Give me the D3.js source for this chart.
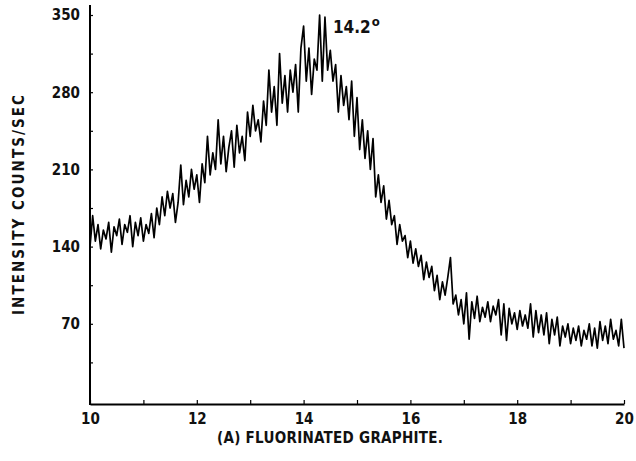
<!DOCTYPE html>
<html>
<head>
<meta charset="utf-8">
<script src="https://cdn.jsdelivr.net/npm/d3@7"></script>
<style>
    body { margin: 0; background: #fff; }
    text { font-family: "DejaVu Sans Condensed", "DejaVu Sans", sans-serif; fill: #111; }
</style>
</head>
<body>
<script>
// 2-theta scan, one reading every 0.05 deg from 10 to 20
const startAngle = 10;
const angleStep = 0.05;
const counts = [
    140, 168, 145, 160, 138, 155, 147, 162, 135, 158,
    150, 165, 142, 160, 153, 168, 140, 162, 150, 166,
    145, 160, 152, 170, 148, 175, 160, 185, 168, 190,
    175, 188, 162, 180, 214, 178, 200, 185, 210, 192,
    205, 180, 215, 198, 240, 205, 225, 210, 255, 215,
    240, 208, 230, 245, 212, 250, 225, 240, 218, 262,
    240, 268, 245, 255, 235, 272, 250, 300, 262, 285,
    250, 315, 270, 295, 262, 300, 280, 305, 262, 320,
    340, 290, 320, 278, 310, 300, 350, 290, 348, 300,
    318, 290, 305, 262, 295, 268, 285, 255, 290, 240,
    275, 228, 255, 220, 245, 210, 238, 185, 205, 180,
    195, 165, 182, 160, 168, 142, 160, 145, 150, 130,
    145, 125, 138, 122, 132, 110, 126, 112, 122, 100,
    114, 92, 108, 96, 112, 130, 88, 96, 78, 92,
    70, 98, 56, 90, 75, 95, 72, 85, 76, 90,
    72, 86, 78, 92, 60, 88, 55, 84, 70, 80,
    65, 82, 68, 78, 66, 88, 58, 82, 62, 78,
    60, 80, 52, 74, 60, 76, 50, 68, 58, 70,
    52, 66, 55, 68, 50, 64, 56, 70, 50, 66,
    48, 72, 55, 68, 52, 74, 56, 64, 50, 74,
    48
];
const xTicks = [10, 11, 12, 13, 14, 15, 16, 17, 18, 19, 20];
const yTicks = [35, 70, 105, 140, 175, 210, 245, 280, 315, 350];
const yLabelled = [70, 140, 210, 280, 350];
const peakLabel = {angle: 14.55, value: 334, text: "14.2"};

const width = 636, height = 461;

const data = counts.map((c, i) => ({angle: startAngle + i * angleStep, count: c}));

const svg = d3.select("body").append("svg")
    .attr("width", width)
    .attr("height", height)
    .attr("viewBox", [0, 0, width, height]);

const x = d3.scaleLinear().domain([10, 20]).range([90, 624]);
const y = d3.scaleLinear().domain([0, 350]).range([401, 15]);
const axisY = 404;

// x axis, small inward ticks, labels on even degrees only
svg.append("g")
    .attr("transform", `translate(0,${axisY})`)
    .call(d3.axisBottom(x)
        .tickValues(xTicks)
        .tickSizeInner(-4)
        .tickSizeOuter(0)
        .tickPadding(9)
        .tickFormat(d => d % 2 === 0 ? d : ""))
    .call(g => g.select(".domain").attr("stroke-width", 2))
    .call(g => g.selectAll(".tick line").attr("stroke-width", 1.2))
    .call(g => g.selectAll(".tick text")
        .style("font-size", "15px")
        .style("font-weight", "bold")
        .attr("fill", "#111"));

// y axis
svg.append("g")
    .attr("transform", `translate(${x(10)},0)`)
    .call(d3.axisLeft(y)
        .tickValues(yTicks)
        .tickSizeInner(-3)
        .tickSizeOuter(0)
        .tickPadding(10)
        .tickFormat(d => yLabelled.includes(d) ? d : ""))
    .call(g => g.select(".domain").remove())
    .call(g => g.selectAll(".tick line").attr("stroke-width", 1.2))
    .call(g => g.selectAll(".tick text")
        .style("font-size", "15px")
        .style("font-weight", "bold")
        .attr("fill", "#111"));

svg.append("line")
    .attr("x1", x(10)).attr("x2", x(10))
    .attr("y1", y(359)).attr("y2", axisY + 1)
    .attr("stroke", "#000")
    .attr("stroke-width", 2);

// the scan trace
const line = d3.line()
    .x(d => x(d.angle))
    .y(d => y(d.count));

svg.append("path")
    .attr("fill", "none")
    .attr("stroke", "#000")
    .attr("stroke-width", 1.7)
    .attr("stroke-linejoin", "round")
    .attr("d", line(data));

// peak annotation
const peak = svg.append("text")
    .attr("x", x(peakLabel.angle))
    .attr("y", y(peakLabel.value))
    .style("font-size", "17px")
    .style("font-weight", "600")
    .text(peakLabel.text);
peak.append("tspan")
    .attr("dy", "-0.5em")
    .attr("dx", "1")
    .style("font-size", "13px")
    .text("o");

// axis titles
svg.append("text")
    .attr("transform", `translate(24,205) rotate(-90)`)
    .attr("text-anchor", "middle")
    .attr("textLength", 220)
    .attr("lengthAdjust", "spacing")
    .style("font-size", "15px")
    .style("font-weight", "bold")
    .text("INTENSITY COUNTS/SEC");

svg.append("text")
    .attr("x", 330)
    .attr("y", 443)
    .attr("text-anchor", "middle")
    .attr("textLength", 226)
    .attr("lengthAdjust", "spacing")
    .style("font-size", "15px")
    .style("font-weight", "bold")
    .text("(A) FLUORINATED GRAPHITE.");
</script>
</body>
</html>
